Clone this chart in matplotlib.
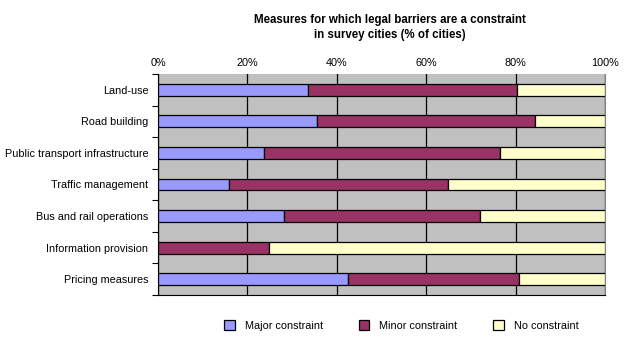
import numpy as np
import matplotlib.pyplot as plt
from matplotlib.ticker import FixedLocator

plt.rcParams['font.family'] = ['Liberation Sans', 'DejaVu Sans']

measures = ['Land-use', 'Road building', 'Public transport infrastructure',
            'Traffic management', 'Bus and rail operations',
            'Information provision', 'Pricing measures']
major = [33.6, 35.5, 23.8, 15.9, 28.2, 0.0, 42.6]
minor = [46.8, 48.9, 52.7, 48.9, 43.9, 24.9, 38.2]
none = [100 - a - b for a, b in zip(major, minor)]
series_names = ['Major constraint', 'Minor constraint', 'No constraint']
colors = ['#9999FF', '#993366', '#FFFFCC']

fig = plt.figure(figsize=(6.37, 3.39), dpi=100)
ax = fig.add_axes([158/637, 44/339, 447/637, 221/339])
ax.set_facecolor('#C0C0C0')

y = np.arange(len(measures))
left = np.zeros(len(measures))
for vals, name, c in zip([major, minor, none], series_names, colors):
    vals = np.array(vals)
    ax.barh(y, vals, left=left, height=0.38, color=c, edgecolor='black',
            linewidth=0.9, label=name, zorder=3)
    left += vals

ax.set_xlim(0, 100)
ax.set_ylim(len(measures) - 0.5, -0.5)
ax.set_xticks([0, 20, 40, 60, 80, 100])
ax.set_xticklabels(['0%', '20%', '40%', '60%', '80%', '100%'], fontsize=7.8)
ax.xaxis.tick_top()
ax.tick_params(axis='x', length=0, pad=4)
ax.grid(axis='x', color='black', linewidth=0.9, zorder=1)

ax.set_yticks(y)
ax.set_yticklabels(measures, fontsize=7.8)
ax.tick_params(axis='y', which='major', length=0, pad=7)
ax.yaxis.set_minor_locator(FixedLocator(np.arange(len(measures) + 1) - 0.5))
ax.tick_params(axis='y', which='minor', length=4, width=0.8, direction='out')

ax.spines['left'].set_color('black')
ax.spines['bottom'].set_color('black')
ax.spines['right'].set_color('#808080')
ax.spines['top'].set_visible(False)

fig.text(0.612, 0.958, 'Measures for which legal barriers are a constraint\nin survey cities (% of cities)',
         ha='center', va='top', fontsize=8.3, fontweight='bold', linespacing=1.3)

fig.legend(loc='center', bbox_to_anchor=(0.63, 0.04), ncol=3, frameon=False,
           fontsize=7.8, handlelength=1.0, handleheight=1.0, columnspacing=3.3,
           handletextpad=0.9)

fig.savefig('out.png', dpi=100)
